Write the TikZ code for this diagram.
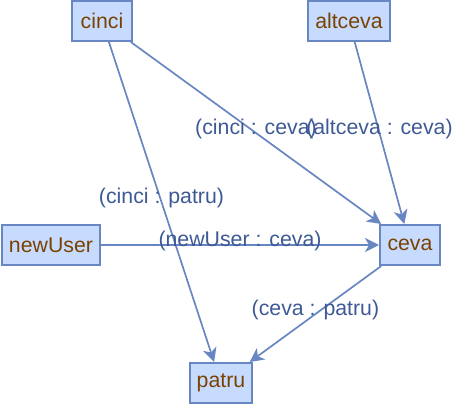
\documentclass[tikz,border=0pt]{standalone}
\usepackage{fontspec}
\setmainfont{Liberation Sans}
\usepackage{xcolor}
\usetikzlibrary{arrows.meta}

\definecolor{boxfill}{RGB}{199,219,255}
\definecolor{boxline}{RGB}{104,134,194}
\definecolor{boxtext}{RGB}{122,66,0}
\definecolor{edgeline}{RGB}{104,134,194}
\definecolor{edgetext}{RGB}{62,90,150}

\begin{document}
\begin{tikzpicture}[x=1pt,y=-1pt,
    entity/.style={draw=boxline,line width=2pt,fill=boxfill,text=boxtext,
      minimum width=60pt,minimum height=40pt,inner xsep=7pt,
      font=\fontsize{21.3}{25}\selectfont},
    rel/.style={draw=edgeline,line width=1.7pt,
      -{Stealth[length=14pt,width=14pt,inset=4pt]}},
    rellabel/.style={text=edgetext,font=\fontsize{21.3}{25}\selectfont,
      midway,yshift=4pt}]
  \useasboundingbox (0,0) rectangle (459,405);
  \node[entity] (cinci)   at (102,21)  {cinci};
  \node[entity] (altceva) at (349,21)  {altceva};
  \node[entity] (newUser) at (51,245)  {newUser};
  \node[entity] (ceva)    at (410,245) {ceva};
  \node[entity] (patru)   at (221,383) {patru};
  % relations
  \draw[rel] (cinci) -- (patru) node[rellabel] {(cinci : patru)};
  \draw[rel] (cinci) -- (ceva) node[rellabel] {(cinci : ceva)};
  \draw[rel] (altceva) -- (ceva) node[rellabel] {(altceva : ceva)};
  \draw[rel] (newUser) -- (ceva) node[rellabel] {(newUser : ceva)};
  \draw[rel] (ceva) -- (patru) node[rellabel] {(ceva : patru)};
\end{tikzpicture}
\end{document}
